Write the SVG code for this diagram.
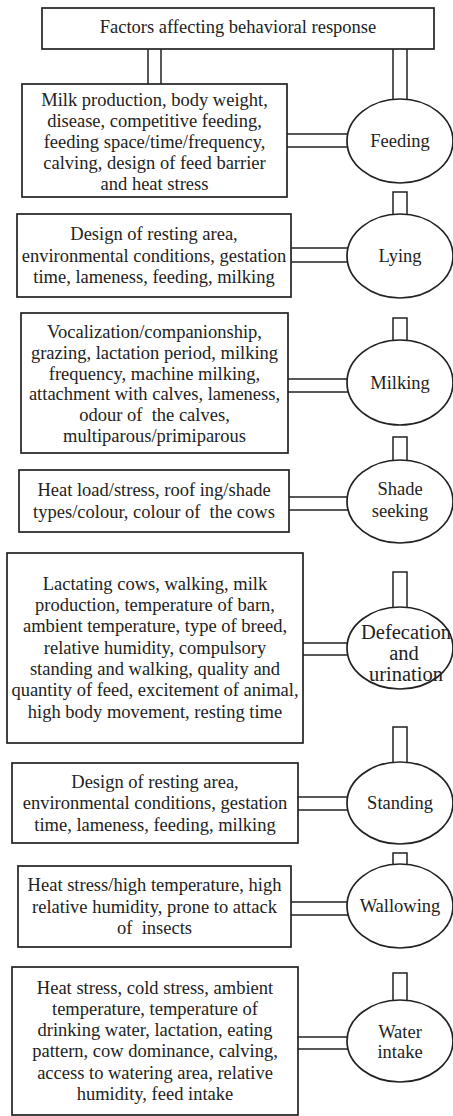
<svg xmlns="http://www.w3.org/2000/svg" width="453" height="1116" viewBox="0 0 453 1116">
<style>
.n{fill:#fff;stroke:#222;stroke-width:1.7}
.c{fill:#fff;stroke:#222;stroke-width:1.5}
.l{fill:none;stroke:#222;stroke-width:1.5}
text{font-family:"Liberation Serif","Times New Roman",serif;font-size:18.5px;fill:#222;text-anchor:middle;white-space:pre}
.big{font-size:20.5px}
</style>
<rect width="453" height="1116" fill="#fff"/>
<g id="connectors">
<path class="l" d="M148,49V84M161,49V84"/>
<path class="l" d="M393,49V104M407,49V104"/>
<rect class="c" x="393" y="192" width="14" height="28"/>
<rect class="c" x="393" y="318" width="14" height="28"/>
<rect class="c" x="393" y="437" width="14" height="29"/>
<rect class="c" x="393" y="572" width="14" height="41"/>
<rect class="c" x="393" y="727" width="14" height="41"/>
<rect class="c" x="393" y="853" width="14" height="17"/>
<rect class="c" x="393" y="973" width="14" height="33"/>
<rect class="c" x="280" y="134" width="72" height="13"/>
<rect class="c" x="280" y="248" width="72" height="14"/>
<rect class="c" x="280" y="379" width="72" height="13"/>
<rect class="c" x="280" y="497" width="72" height="13"/>
<rect class="c" x="295" y="643" width="57" height="12"/>
<rect class="c" x="290" y="797" width="62" height="13"/>
<rect class="c" x="285" y="902" width="67" height="13"/>
<rect class="c" x="290" y="1037" width="62" height="12"/>
</g>
<g id="top">
<rect class="n" x="42" y="8" width="392" height="41"/>
<text x="238" y="33">Factors affecting behavioral response</text>
</g>
<g id="feeding-factors">
<rect class="n" x="22" y="84" width="265" height="113"/>
<text x="154.5" y="106">Milk production, body weight,</text>
<text x="154.5" y="127">disease, competitive feeding,</text>
<text x="154.5" y="148">feeding space/time/frequency,</text>
<text x="154.5" y="169">calving, design of feed barrier</text>
<text x="154.5" y="190">and heat stress</text>
</g>
<g id="feeding">
<ellipse class="n" cx="400" cy="141" rx="53" ry="42"/>
<text x="400" y="147">Feeding</text>
</g>
<g id="lying-factors">
<rect class="n" x="17" y="214" width="274" height="83"/>
<text x="154" y="240">Design of resting area,</text>
<text x="154" y="261.5">environmental conditions, gestation</text>
<text x="154" y="283">time, lameness, feeding, milking</text>
</g>
<g id="lying">
<ellipse class="n" cx="400" cy="256" rx="53" ry="42"/>
<text x="400" y="262">Lying</text>
</g>
<g id="milking-factors">
<rect class="n" x="21" y="313" width="267" height="140"/>
<text x="154.5" y="338">Vocalization/companionship,</text>
<text x="154.5" y="358.8">grazing, lactation period, milking</text>
<text x="154.5" y="379.6">frequency, machine milking,</text>
<text x="154.5" y="400.4">attachment with calves, lameness,</text>
<text x="154.5" y="421.2">odour of  the calves,</text>
<text x="154.5" y="442">multiparous/primiparous</text>
</g>
<g id="milking">
<ellipse class="n" cx="400" cy="382.5" rx="53" ry="42.5"/>
<text x="400" y="388.5">Milking</text>
</g>
<g id="shade-factors">
<rect class="n" x="19" y="470" width="270" height="62"/>
<text x="154" y="495.5">Heat load/stress, roof ing/shade</text>
<text x="154" y="517.5">types/colour, colour of  the cows</text>
</g>
<g id="shade">
<ellipse class="n" cx="400" cy="501.5" rx="53" ry="41.5"/>
<text x="400" y="495">Shade</text>
<text x="400" y="517">seeking</text>
</g>
<g id="defecation-factors">
<rect class="n" x="7" y="553" width="296" height="190"/>
<text x="155" y="589.5">Lactating cows, walking, milk</text>
<text x="155" y="611">production, temperature of barn,</text>
<text x="155" y="632.3">ambient temperature, type of breed,</text>
<text x="155" y="653.6">relative humidity, compulsory</text>
<text x="155" y="674.9">standing and walking, quality and</text>
<text x="155" y="696.2">quantity of feed, excitement of animal,</text>
<text x="155" y="717.5">high body movement, resting time</text>
</g>
<g id="defecation">
<ellipse class="n" cx="400" cy="648" rx="53" ry="41"/>
<text class="big" x="406" y="639">Defecation</text>
<text class="big" x="404" y="660">and</text>
<text class="big" x="406" y="681">urination</text>
</g>
<g id="standing-factors">
<rect class="n" x="12" y="763" width="286" height="80"/>
<text x="155" y="788">Design of resting area,</text>
<text x="155" y="809">environmental conditions, gestation</text>
<text x="155" y="830.5">time, lameness, feeding, milking</text>
</g>
<g id="standing">
<ellipse class="n" cx="400" cy="803" rx="53" ry="41"/>
<text x="400" y="809">Standing</text>
</g>
<g id="wallowing-factors">
<rect class="n" x="18" y="866" width="273" height="81"/>
<text x="154.5" y="891">Heat stress/high temperature, high</text>
<text x="154.5" y="912.5">relative humidity, prone to attack</text>
<text x="154.5" y="934">of  insects</text>
</g>
<g id="wallowing">
<ellipse class="n" cx="400" cy="906" rx="53" ry="42"/>
<text x="400" y="912">Wallowing</text>
</g>
<g id="water-factors">
<rect class="n" x="12" y="967" width="286" height="148"/>
<text x="155" y="993.5">Heat stress, cold stress, ambient</text>
<text x="155" y="1014.8">temperature, temperature of</text>
<text x="155" y="1036.1">drinking water, lactation, eating</text>
<text x="155" y="1057.4">pattern, cow dominance, calving,</text>
<text x="155" y="1078.7">access to watering area, relative</text>
<text x="155" y="1100">humidity, feed intake</text>
</g>
<g id="water">
<ellipse class="n" cx="400" cy="1041" rx="53" ry="41"/>
<text x="400" y="1038">Water</text>
<text x="400" y="1058">intake</text>
</g>
</svg>
